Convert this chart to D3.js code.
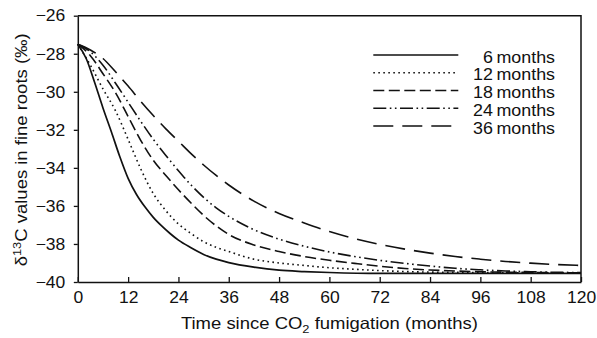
<!DOCTYPE html>
<html>
<head>
<meta charset="utf-8">
<script src="https://cdn.jsdelivr.net/npm/d3@7"></script>
<style>
  html, body { margin: 0; padding: 0; background: #fff; }
  svg { display: block; }
  text { font-family: "Liberation Sans", Arial, Helvetica, sans-serif; fill: #111; }
</style>
</head>
<body>
<div id="chart"></div>
<script>
// ---- data (months since fumigation, δ13C ‰) ----
const months6  = [0,2,4,6,8,10,12,14,16,18,20,22,24,27,30,33,36,42,48,54,60,72,84,96,108,120];
const values6  = [-27.5,-28.25,-29.5,-30.85,-32.1,-33.4,-34.55,-35.4,-36.05,-36.6,-37.05,-37.45,-37.8,-38.2,-38.55,-38.8,-38.98,-39.22,-39.38,-39.45,-39.5,-39.55,-39.55,-39.55,-39.55,-39.55];

const months12 = [0,3,6,9,12,15,18,21,24,27,30,33,36,42,48,54,60,66,72,78,84,96,108,120];
const values12 = [-27.5,-28.6,-29.85,-31.0,-32.5,-34.05,-35.35,-36.25,-36.95,-37.45,-37.88,-38.18,-38.4,-38.8,-39.0,-39.13,-39.25,-39.33,-39.4,-39.45,-39.48,-39.5,-39.52,-39.52];

const months18 = [0,3,6,9,12,15,18,21,24,27,30,33,36,42,48,54,60,66,72,78,84,90,96,108,120];
const values18 = [-27.5,-28.1,-29.05,-30.05,-31.3,-32.55,-33.6,-34.4,-35.15,-35.85,-36.5,-37.05,-37.5,-38.05,-38.4,-38.66,-38.86,-39.02,-39.17,-39.29,-39.37,-39.42,-39.46,-39.5,-39.52];

const months24 = [0,3,6,9,12,15,18,21,24,27,30,33,36,42,48,54,60,66,72,78,84,90,96,102,108,114,120];
const values24 = [-27.5,-27.9,-28.6,-29.55,-30.55,-31.55,-32.5,-33.35,-34.15,-34.9,-35.55,-36.1,-36.55,-37.25,-37.75,-38.12,-38.42,-38.66,-38.86,-39.02,-39.16,-39.28,-39.36,-39.42,-39.46,-39.49,-39.5];

const months36 = [0,3,6,9,12,15,18,21,24,27,30,33,36,42,48,54,60,66,72,78,84,90,96,102,108,114,120];
const values36 = [-27.5,-27.8,-28.25,-28.95,-29.7,-30.5,-31.25,-31.95,-32.6,-33.25,-33.85,-34.4,-34.9,-35.75,-36.4,-36.9,-37.35,-37.72,-38.02,-38.27,-38.48,-38.66,-38.8,-38.92,-39.01,-39.08,-39.13];

const seriesNames = ["6 months","12 months","18 months","24 months","36 months"];
const xTicks = [0,12,24,36,48,60,72,84,96,108,120];
const yTicks = [-40,-38,-36,-34,-32,-30,-28,-26];

// ---- layout ----
const W = 597, H = 338;
const margin = {top: 15.7, right: 16, bottom: 56, left: 77.8};
const iw = W - margin.left - margin.right;
const ih = H - margin.top - margin.bottom;

const svg = d3.select("#chart").append("svg").attr("width", W).attr("height", H);
const g = svg.append("g").attr("transform", `translate(${margin.left},${margin.top})`);

const x = d3.scaleLinear().domain([0,120]).range([0, iw]);
const y = d3.scaleLinear().domain([-40,-26]).range([ih, 0]);

// widen glyphs horizontally (reference typeface is wider than Arial metrics)
function stretch(sel, factor) {
  sel.each(function() {
    const len = this.getComputedTextLength();
    d3.select(this).attr("textLength", len * factor).attr("lengthAdjust", "spacingAndGlyphs");
  });
}

const series = [
  {name: seriesNames[0], m: months6,  v: values6,  dash: null, w: 1.7},
  {name: seriesNames[1], m: months12, v: values12, dash: "1.6,3.4", w: 1.6},
  {name: seriesNames[2], m: months18, v: values18, dash: "11,4.5", w: 1.6},
  {name: seriesNames[3], m: months24, v: values24, dash: "13,3.5,1.6,3.5,1.6,3.5", w: 1.6},
  {name: seriesNames[4], m: months36, v: values36, dash: "20,9", w: 1.6}
];

const line = d3.line().x(d => x(d[0])).y(d => y(d[1])).curve(d3.curveMonotoneX);

series.forEach(s => {
  const pts = s.m.map((mm, i) => [mm, s.v[i]]);
  g.append("path").datum(pts)
    .attr("d", line)
    .attr("fill", "none")
    .attr("stroke", "#111")
    .attr("stroke-width", s.w)
    .attr("stroke-dasharray", s.dash);
});

// frame (top & right)
g.append("path")
  .attr("d", `M0,0H${iw}V${ih}`)
  .attr("fill", "none").attr("stroke", "#111").attr("stroke-width", 1.5);

// x axis: inward ticks
const xAxis = g.append("g").attr("transform", `translate(0,${ih})`)
  .call(d3.axisBottom(x).tickValues(xTicks).tickSizeInner(-5).tickSizeOuter(0).tickFormat(d3.format("d")));
xAxis.select(".domain").attr("stroke", "#111").attr("stroke-width", 1.5);
xAxis.selectAll(".tick line").attr("stroke", "#111").attr("stroke-width", 1.3);
const xLabels = xAxis.selectAll(".tick text").attr("font-size", 16.5).attr("dy", "0").attr("y", 20.5)
  .style("font-family", "Liberation Sans, Arial, sans-serif").attr("fill", "#111");
stretch(xLabels, 1.06);

// y axis: outward ticks
const yAxis = g.append("g")
  .call(d3.axisLeft(y).tickValues(yTicks).tickSizeInner(4).tickSizeOuter(0).tickPadding(8.5));
yAxis.select(".domain").attr("stroke", "#111").attr("stroke-width", 1.5);
yAxis.selectAll(".tick line").attr("stroke", "#111").attr("stroke-width", 1.3);
const yLabels = yAxis.selectAll(".tick text").attr("font-size", 16.5)
  .style("font-family", "Liberation Sans, Arial, sans-serif").attr("fill", "#111");
stretch(yLabels, 1.06);

// axis titles
const xt = svg.append("text")
  .attr("x", margin.left + iw/2).attr("y", 328.5)
  .attr("text-anchor", "middle").attr("font-size", 16.5)
  .attr("textLength", 297).attr("lengthAdjust", "spacingAndGlyphs");
xt.append("tspan").text("Time since CO");
xt.append("tspan").text("2").attr("font-size", 11.5).attr("dy", 4.5);
xt.append("tspan").text(" fumigation (months)").attr("dy", -4.5);

const yt = svg.append("text")
  .attr("transform", `translate(27,${margin.top + ih/2 + 1}) rotate(-90)`)
  .attr("text-anchor", "middle").attr("font-size", 16.5)
  .attr("textLength", 233).attr("lengthAdjust", "spacingAndGlyphs");
yt.append("tspan").text("δ");
yt.append("tspan").text("13").attr("font-size", 11.5).attr("dy", -6);
yt.append("tspan").text("C values in fine roots (‰)").attr("dy", 6);

// legend
const lg = svg.append("g");
series.forEach((s, i) => {
  const ly = 55 + i * 17.75;
  lg.append("line")
    .attr("x1", 373.3).attr("x2", 458.3).attr("y1", ly).attr("y2", ly)
    .attr("stroke", "#111").attr("stroke-width", s.w)
    .attr("stroke-dasharray", s.dash);
  const t = lg.append("text")
    .attr("x", 555).attr("y", ly + 7.5)
    .attr("text-anchor", "end").attr("font-size", 15.8)
    .attr("word-spacing", -1.2)
    .text(s.name);
  stretch(t, 1.13);
});
</script>
</body>
</html>
